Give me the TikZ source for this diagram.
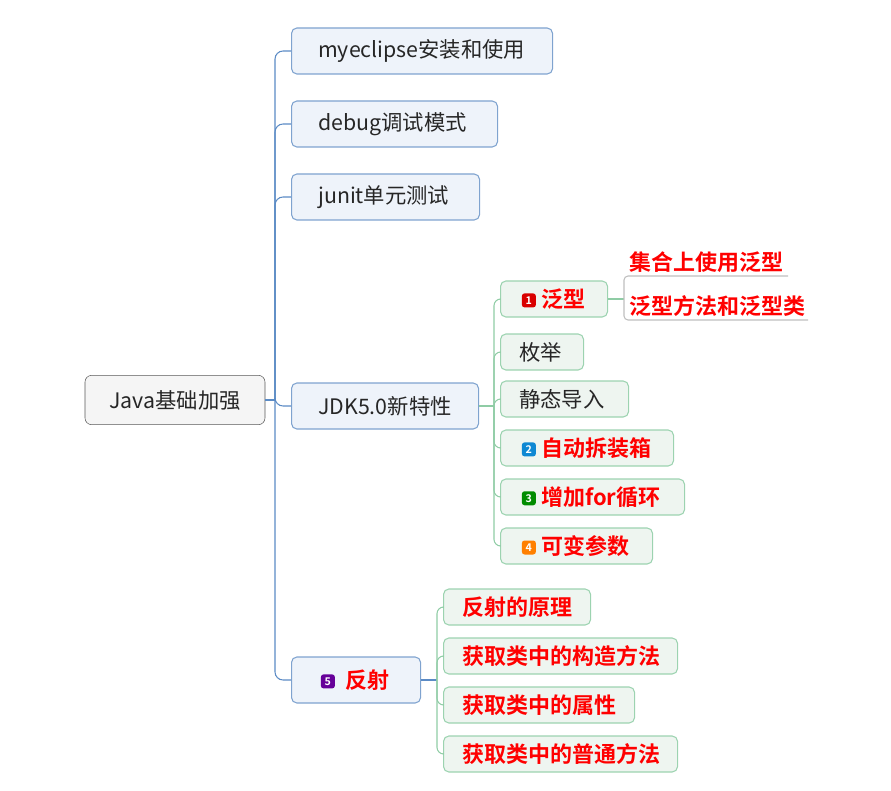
\documentclass[tikz,border=0pt]{standalone}
\usepackage{fontspec}
\setmainfont{Noto Sans CJK SC}[BoldFont={Noto Sans CJK SC Bold}]
\definecolor{bbord}{HTML}{7FA3CF}
\definecolor{bfill}{HTML}{EEF3FA}
\definecolor{gbord}{HTML}{9CD3B0}
\definecolor{gfill}{HTML}{EEF5F0}
\definecolor{bline}{HTML}{5B8BC5}
\definecolor{gline}{HTML}{8FCCA5}
\definecolor{tred}{HTML}{FF0000}
\tikzset{
 base/.style={rounded corners=4pt,anchor=west,inner sep=0pt,align=left},
 rootbox/.style={draw=gray!70!black,fill=gray!8,rounded corners=5pt,minimum width=135pt,minimum height=37pt,font=\fontsize{16}{18}\selectfont,text=black!85},
 bbox/.style={base,draw=bbord,fill=bfill,line width=0.8pt,minimum height=34.5pt,font=\fontsize{16}{18}\selectfont,text=black!85},
 gbox/.style={base,draw=gbord,fill=gfill,line width=0.8pt,minimum height=27pt,font=\fontsize{16}{18}\selectfont,text=black!85},
 rtxt/.style={font=\bfseries\fontsize{16.5}{18}\selectfont,text=tred},
 bl/.style={draw=bline,line width=0.8pt,rounded corners=6pt},
 gl/.style={draw=gline,line width=0.8pt,rounded corners=5pt},
 ul/.style={draw=gray!50,line width=0.8pt},
}
\newcommand{\rt}[1]{{\bfseries\fontsize{16.5}{18}\selectfont\color{tred}#1}}
\newcommand{\ic}[2]{\tikz[baseline=-0.6ex]\node[fill=#1,rounded corners=2pt,inner sep=0pt,minimum size=10.5pt,text=white,font=\bfseries\fontsize{8}{8}\selectfont]{#2};\hspace{4pt}}
\begin{document}
\begin{tikzpicture}[x=0.75pt,y=-0.75pt]
\useasboundingbox (0,0) rectangle (891,791);
\node[rootbox] (root) at (175,400) {Java基础加强};
\node[bbox,text width=195.75pt] (n1) at (291,51) {\hspace{20pt}myeclipse安装和使用};
\node[bbox,text width=154.5pt] (n2) at (291,124) {\hspace{20pt}debug调试模式};
\node[bbox,text width=141pt] (n3) at (291,197) {\hspace{20pt}junit单元测试};
\node[bbox,text width=140.25pt] (n4) at (291,406) {\hspace{20pt}JDK5.0新特性};
\node[bbox,text width=96.75pt] (n5) at (291,680) {\hspace{22pt}\ic{violet!80!blue}{5}\hspace{4pt}\rt{反射}};
\coordinate (t1) at (275,400);
\draw[bl] (root.east) -- (t1);
\foreach \n in {n1,n2,n3,n4,n5}{\draw[bl] (t1) |- (\n.west);}
% JDK children
\node[gbox,text width=80.25pt] (g1) at (500,299) {\hspace{16pt}\ic{red!85!black}{1}\rt{泛型}};
\node[gbox,text width=62.25pt] (g2) at (500,352) {\hspace{14pt}枚举};
\node[gbox,text width=96pt] (g3) at (500,399) {\hspace{14pt}静态导入};
\node[gbox,text width=129.75pt] (g4) at (500,448) {\hspace{16pt}\ic{cyan!70!blue}{2}\rt{自动拆装箱}};
\node[gbox,text width=138pt] (g5) at (500,497) {\hspace{16pt}\ic{green!55!black}{3}\rt{增加for循环}};
\node[gbox,text width=114pt] (g6) at (500,546) {\hspace{16pt}\ic{orange}{4}\rt{可变参数}};
\coordinate (t2) at (494,406);
\draw[gl] (n4.east) -- (t2);
\foreach \n in {g1,g2,g3,g4,g5,g6}{\draw[gl] (t2) |- (\n.west);}
% generic children
\node[rtxt,anchor=south west,inner sep=0pt] (h1) at (629,273) {集合上使用泛型};
\node[rtxt,anchor=south west,inner sep=0pt] (h2) at (629,317) {泛型方法和泛型类};
\coordinate (t3) at (624,299);
\draw[gl] (g1.east) -- (t3);
\draw[ul,rounded corners=3pt] (788,276) -- (624,276) -- (624,320) -- (808,320);
% reflection children
\node[gbox,text width=110.25pt] (r1) at (443,607) {\hspace{14pt}\rt{反射的原理}};
\node[gbox,text width=175.5pt] (r2) at (443,656) {\hspace{14pt}\rt{获取类中的构造方法}};
\node[gbox,text width=143.25pt] (r3) at (443,705) {\hspace{14pt}\rt{获取类中的属性}};
\node[gbox,text width=175.5pt] (r4) at (443,754) {\hspace{14pt}\rt{获取类中的普通方法}};
\coordinate (t4) at (437,680);
\draw[bl] (n5.east) -- (t4);
\foreach \n in {r1,r2,r3,r4}{\draw[gl] (t4) |- (\n.west);}
\end{tikzpicture}
\end{document}
